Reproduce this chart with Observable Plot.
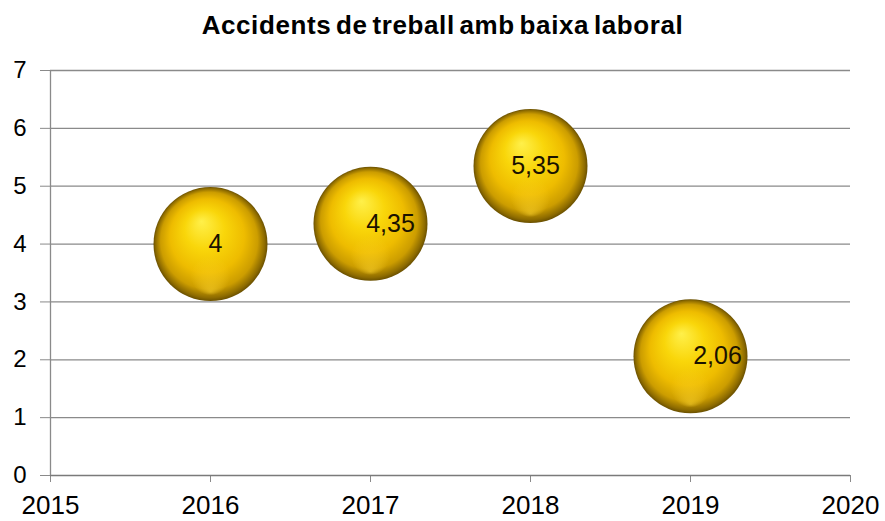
<!DOCTYPE html>
<html>
<head>
<meta charset="utf-8">
<script src="https://cdn.jsdelivr.net/npm/d3@7"></script>
<script src="https://cdn.jsdelivr.net/npm/@observablehq/plot@0.6"></script>
<style>
  html, body { margin: 0; padding: 0; background: #fff; }
  #wrap { width: 885px; height: 521px; overflow: hidden; position: relative; }
  #title { height: 50px; line-height: 50px; text-align: center; font-family: "Liberation Sans", Arial, sans-serif; font-weight: bold; font-size: 26px; color: #000; letter-spacing: 0.6px; word-spacing: -3px; padding-left: 0px; }
</style>
</head>
<body>
<div id="wrap">
  <div id="title">Accidents de treball amb baixa laboral</div>
  <div id="chart"></div>
</div>
<script>
const years = [2016, 2017, 2018, 2019];
const values = [4, 4.35, 5.35, 2.06];
const labels = ["4", "4,35", "5,35", "2,06"];
const xTicks = [2015, 2016, 2017, 2018, 2019, 2020];
const yTicks = [0, 1, 2, 3, 4, 5, 6, 7];

const data = years.map((y, i) => ({year: y, value: values[i], label: labels[i]}));
const labelShift = {2016: 5, 2017: 20, 2018: 5, 2019: 27};

const defs = () => {
  const g = d3.create("svg:defs");
  const rg = g.append("radialGradient").attr("id", "ball")
    .attr("cx", "50%").attr("cy", "50%").attr("r", "50%")
    .attr("fx", "42%").attr("fy", "30%");
  [[0, "#fff04a"], [0.35, "#f9d60a"], [0.65, "#eebc00"], [0.85, "#cc9d00"], [0.96, "#8c6a00"], [1, "#6a5000"]]
    .forEach(([o, c]) => rg.append("stop").attr("offset", o).attr("stop-color", c));
  const rg2 = g.append("radialGradient").attr("id", "rim")
    .attr("cx", "50%").attr("cy", "50%").attr("r", "50%")
    .attr("fx", "50%").attr("fy", "92%");
  [[0, "rgba(255,215,50,0.5)"], [0.35, "rgba(255,215,50,0.0)"], [1, "rgba(255,215,50,0)"]]
    .forEach(([o, c]) => rg2.append("stop").attr("offset", o).attr("stop-color", c));
  return g.node();
};

const chart = Plot.plot({
  width: 885,
  height: 471,
  marginLeft: 50,
  marginRight: 35,
  marginTop: 20,
  marginBottom: 46,
  style: {fontFamily: "'Liberation Sans', Arial, sans-serif", fontSize: "24px", color: "#000", background: "#fff", overflow: "visible"},
  x: {domain: [2015, 2020], type: "linear"},
  y: {domain: [0, 7]},
  marks: [
    defs,
    Plot.ruleY(yTicks.filter(d => d > 0), {x1: 2015, x2: 2020, stroke: "#8a8a8a", strokeWidth: 1.3}),
    Plot.axisY({ticks: yTicks, tickFormat: "d", tickSize: 10, tickPadding: 14, stroke: "#8a8a8a", fill: "#000", fontSize: 24, label: null}),
    Plot.axisX({ticks: xTicks, tickFormat: "d", tickSize: 7, tickPadding: 13, stroke: "#8a8a8a", fill: "#000", fontSize: 26, label: null}),
    Plot.ruleY([0], {stroke: "#7a7a7a", strokeWidth: 1.3}),
    Plot.ruleX([2015], {y1: 0, y2: 7, stroke: "#8a8a8a", strokeWidth: 1.3}),
    Plot.dot(data, {x: "year", y: "value", r: 57, fill: "url(#ball)", stroke: "none"}),
    Plot.dot(data, {x: "year", y: "value", r: 57, fill: "url(#rim)", stroke: "none"}),
    ...years.map(yr => Plot.text(data.filter(d => d.year === yr), {x: "year", y: "value", text: "label", dx: labelShift[yr], fontSize: 25, fill: "#1a1200"}))
  ]
});
document.getElementById("chart").appendChild(chart);
</script>
</body>
</html>
